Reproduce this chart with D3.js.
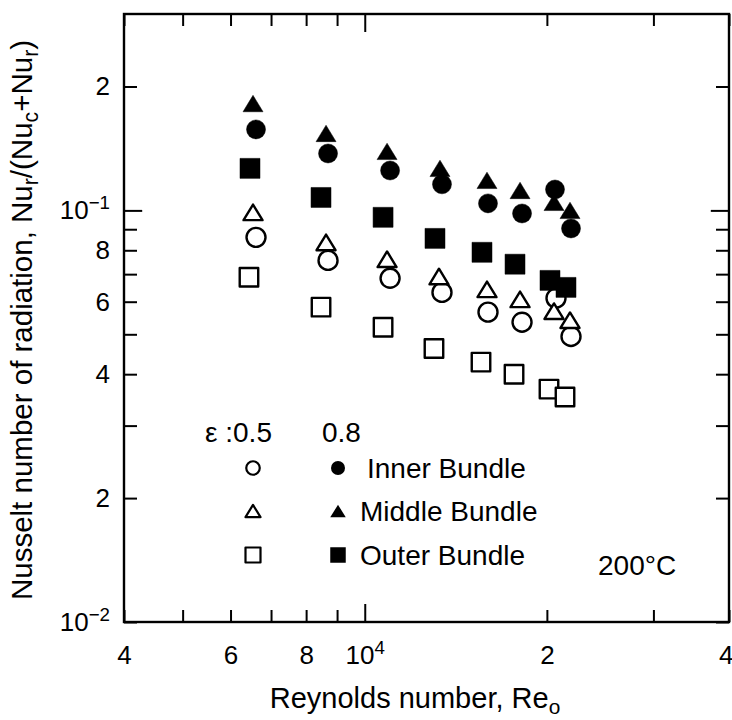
<!DOCTYPE html>
<html>
<head>
<meta charset="utf-8">
<script src="https://cdn.jsdelivr.net/npm/d3@7"></script>
<style>
  body { margin: 0; background: #fff; }
  svg { display: block; }
</style>
</head>
<body>
<div id="chart"></div>
<script>
// Reynolds number (x) and Nu_r/(Nu_c+Nu_r) (y)
const RE_INNER_05 = [6611, 8696, 11012, 13417, 15985, 18196, 20707, 21924];
const NU_INNER_05 = [0.0860, 0.0756, 0.0684, 0.0632, 0.0566, 0.0535, 0.0612, 0.0494];
const RE_MIDDLE_05 = [6536, 8630, 10886, 13264, 15924, 18058, 20550, 21840];
const NU_MIDDLE_05 = [0.0989, 0.0836, 0.0761, 0.0691, 0.0643, 0.0608, 0.0569, 0.0541];
const RE_OUTER_05 = [6436, 8467, 10722, 13014, 15565, 17650, 20162, 21429];
const NU_OUTER_05 = [0.0688, 0.0582, 0.0520, 0.0462, 0.0428, 0.0400, 0.0368, 0.0352];
const RE_INNER_08 = [6611, 8696, 11012, 13417, 15985, 18196, 20628, 21924];
const NU_INNER_08 = [0.1573, 0.1375, 0.1250, 0.1157, 0.1040, 0.0983, 0.1124, 0.0904];
const RE_MIDDLE_08 = [6536, 8630, 10886, 13315, 15924, 18058, 20550, 21840];
const NU_MIDDLE_08 = [0.1818, 0.1538, 0.1391, 0.1265, 0.1183, 0.1118, 0.1046, 0.1000];
const RE_OUTER_08 = [6461, 8467, 10722, 13064, 15624, 17717, 20239, 21510];
const NU_OUTER_08 = [0.1265, 0.1075, 0.0962, 0.0855, 0.0791, 0.0740, 0.0676, 0.0650];

// ticks
const X_MAJOR = [4000, 6000, 8000, 10000, 20000, 40000];
const X_LABELS = ['4', '6', '8', '10^4', '2', '4'];
const X_MINOR = [5000, 7000, 9000, 30000];
const Y_MAJOR = [0.01, 0.02, 0.04, 0.06, 0.08, 0.1, 0.2];
const Y_LABELS = ['10^\u22122', '2', '4', '6', '8', '10^\u22121', '2'];
const Y_MINOR = [0.03, 0.05, 0.07, 0.09];
const DECADES = [10000, 0.1];

const BUNDLES = ['Inner Bundle', 'Middle Bundle', 'Outer Bundle'];

const WIDTH = 732;
const HEIGHT = 720;
const MARGINS = { TOP: 14, LEFT: 124, BOTTOM: 98, RIGHT: 3 };
const PW = WIDTH - MARGINS.LEFT - MARGINS.RIGHT;
const PH = HEIGHT - MARGINS.TOP - MARGINS.BOTTOM;
const FONT = '"Liberation Sans", Arial, Helvetica, sans-serif';
const TICK = 12;

let svg = d3.select('#chart')
    .append('svg')
    .attr('width', WIDTH)
    .attr('height', HEIGHT)
    .style('font-family', FONT);

let g = svg.append('g')
    .attr('transform', `translate(${MARGINS.LEFT},${MARGINS.TOP})`);

let x = d3.scaleLog().domain([4000, 40000]).range([0, PW]);
let y = d3.scaleLog().domain([0.01, 0.3]).range([PH, 0]);

// "10^4" -> 10 with a raised 4
function supLabel(textSel) {
    textSel.each(function () {
        let t = d3.select(this);
        let s = t.text();
        if (s.indexOf('^') < 0) return;
        let [base, sup] = s.split('^');
        t.text(base);
        t.append('tspan').attr('dy', '-0.55em').attr('font-size', '0.72em').text(sup);
    });
}

function richText(sel, parts) {
    let shift = 0;
    parts.forEach(([txt, kind]) => {
        let dy = 0;
        if (kind === 'sub') dy = 0.28;
        if (kind === 'sup') dy = -0.5;
        let ts = sel.append('tspan').text(txt);
        if (kind) {
            ts.attr('font-size', '0.72em').attr('dy', (dy - shift) + 'em');
            shift = dy;
        } else if (shift !== 0) {
            ts.attr('dy', (-shift * 0.72) + 'em');
            shift = 0;
        }
    });
}

function styleAxis(ax, size) {
    ax.attr('font-size', size).attr('font-family', FONT);
    ax.select('.domain').remove();
    ax.selectAll('.tick line').attr('stroke-width', 2);
}

// bottom axis
let xMinor = g.append('g').attr('transform', `translate(0,${PH})`)
    .call(d3.axisBottom(x).tickValues(X_MINOR).tickSize(-TICK).tickFormat(''));
styleAxis(xMinor, 26);
let xMajor = g.append('g').attr('transform', `translate(0,${PH})`)
    .call(d3.axisBottom(x).tickValues(X_MAJOR).tickSize(-TICK).tickPadding(24)
        .tickFormat((d, i) => X_LABELS[i]));
styleAxis(xMajor, 26);
xMajor.selectAll('.tick text').call(supLabel);
// the last "4" sits on the right edge; pull it in so it is not cut
xMajor.selectAll('.tick text').filter(d => d === 40000).attr('text-anchor', 'end').attr('x', 4);

// top axis
let xTop = g.append('g')
    .call(d3.axisTop(x).tickValues(X_MAJOR.concat(X_MINOR)).tickSize(-TICK).tickFormat(''));
styleAxis(xTop, 26);

// left axis
let yMinor = g.append('g')
    .call(d3.axisLeft(y).tickValues(Y_MINOR).tickSize(-TICK - 1).tickFormat(''));
styleAxis(yMinor, 26);
let yMajor = g.append('g')
    .call(d3.axisLeft(y).tickValues(Y_MAJOR).tickSize(-TICK - 1).tickPadding(14)
        .tickFormat((d, i) => Y_LABELS[i]));
styleAxis(yMajor, 26);
yMajor.selectAll('.tick text').call(supLabel);

// right axis
let yRight = g.append('g').attr('transform', `translate(${PW},0)`)
    .call(d3.axisRight(y).tickValues(Y_MAJOR.concat(Y_MINOR)).tickSize(-TICK - 1).tickFormat(''));
styleAxis(yRight, 26);

// longer ticks at the decades
g.selectAll('.tick line')
    .filter(d => DECADES.includes(d))
    .each(function () {
        let l = d3.select(this);
        if (l.attr('y2') !== null && +l.attr('y2') !== 0) l.attr('y2', +l.attr('y2') * 1.5);
        if (l.attr('x2') !== null && +l.attr('x2') !== 0) l.attr('x2', +l.attr('x2') * 1.4);
    });

// frame
g.append('rect')
    .attr('width', PW)
    .attr('height', PH)
    .attr('fill', 'none')
    .attr('stroke', '#000')
    .attr('stroke-width', 2.4);

// axis titles
let xTitle = svg.append('text')
    .attr('x', 415)
    .attr('y', 708)
    .attr('text-anchor', 'middle')
    .attr('font-size', 29);
richText(xTitle, [['Reynolds number, Re'], ['o', 'sub']]);

let yTitle = svg.append('text')
    .attr('transform', 'translate(32,320) rotate(-90)')
    .attr('text-anchor', 'middle')
    .attr('font-size', 29.5);
richText(yTitle, [['Nusselt number of radiation, Nu'], ['r', 'sub'], ['/(Nu'], ['c', 'sub'],
    ['+Nu'], ['r', 'sub'], [')']]);

// markers
function markerPath(shape, s) {
    if (shape === 'circle') return d3.symbol(d3.symbolCircle, Math.PI * s * s / 4)();
    if (shape === 'square') return d3.symbol(d3.symbolSquare, s * s)();
    let h = s * 0.82;
    return `M0,${-h / 2}L${s / 2},${h / 2}L${-s / 2},${h / 2}Z`;
}

const SERIES = [
    { re: RE_INNER_05, nu: NU_INNER_05, shape: 'circle', filled: false, size: 19 },
    { re: RE_MIDDLE_05, nu: NU_MIDDLE_05, shape: 'triangle', filled: false, size: 19 },
    { re: RE_OUTER_05, nu: NU_OUTER_05, shape: 'square', filled: false, size: 18.5 },
    { re: RE_INNER_08, nu: NU_INNER_08, shape: 'circle', filled: true, size: 19 },
    { re: RE_MIDDLE_08, nu: NU_MIDDLE_08, shape: 'triangle', filled: true, size: 20 },
    { re: RE_OUTER_08, nu: NU_OUTER_08, shape: 'square', filled: true, size: 20 }
];

SERIES.forEach(s => {
    let pts = s.re.map((r, i) => ({ re: r, nu: s.nu[i] }));
    g.append('g')
        .selectAll('path')
        .data(pts)
        .enter()
        .append('path')
        .attr('d', markerPath(s.shape, s.size))
        .attr('transform', d => `translate(${x(d.re)},${y(d.nu)})`)
        .attr('fill', s.filled ? '#000' : '#fff')
        .attr('stroke', '#000')
        .attr('stroke-width', s.filled ? 0.5 : 2.4)
        .attr('stroke-linejoin', 'round');
});

// legend
let legend = svg.append('g').attr('id', 'legend').attr('font-size', 28);
legend.append('text').attr('x', 205).attr('y', 442).text('\u03b5 :0.5');
legend.append('text').attr('x', 322).attr('y', 442).text('0.8');

const LEG_SHAPES = ['circle', 'triangle', 'square'];
const LEG_ROWS = [468, 511, 555];
const LEG_TEXT_X = [367, 360, 360];
LEG_SHAPES.forEach((shape, i) => {
    legend.append('path')
        .attr('d', markerPath(shape, shape === 'circle' ? 13.5 : 15))
        .attr('transform', `translate(253,${LEG_ROWS[i]})`)
        .attr('fill', '#fff')
        .attr('stroke', '#000')
        .attr('stroke-width', 2.2)
        .attr('stroke-linejoin', 'round');
    legend.append('path')
        .attr('d', markerPath(shape, shape === 'circle' ? 14 : 15.5))
        .attr('transform', `translate(338,${LEG_ROWS[i]})`)
        .attr('fill', '#000');
    legend.append('text')
        .attr('x', LEG_TEXT_X[i])
        .attr('y', LEG_ROWS[i] + 10)
        .text(BUNDLES[i]);
});

svg.append('text')
    .attr('x', 598)
    .attr('y', 575)
    .attr('font-size', 28)
    .text('200\u00b0C');
</script>
</body>
</html>
